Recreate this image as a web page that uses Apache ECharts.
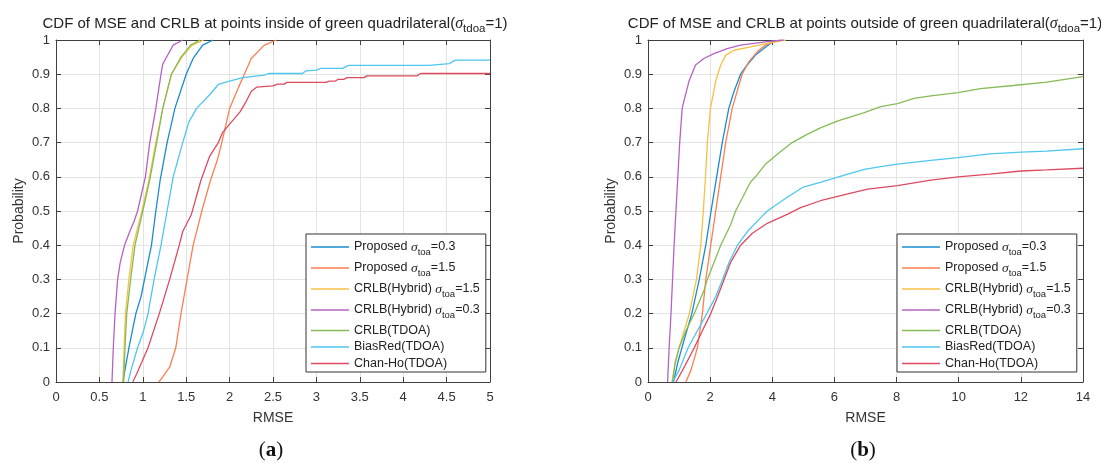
<!DOCTYPE html>
<html>
<head>
<meta charset="utf-8">
<script src="https://cdn.jsdelivr.net/npm/echarts@6/dist/echarts.min.js"></script>
<style>html,body{margin:0;padding:0;background:#fff}#c{width:1101px;height:463px}</style>
</head>
<body>
<div id="c"></div>
<script>
// ---------- data ----------
const seriesNames = ['Proposed σtoa=0.3','Proposed σtoa=1.5','CRLB(Hybrid) σtoa=1.5','CRLB(Hybrid) σtoa=0.3','CRLB(TDOA)','BiasRed(TDOA)','Chan-Ho(TDOA)'];
const xMaxIn = 5, xStepIn = 0.5;
const xMaxOut = 14, xStepOut = 2;
const yMax = 1, yStep = 0.1;

// (a) inside points: [RMSE, probability]
const inProposed03 = [[0.77,0],[0.84,0.1],[0.88,0.15],[0.92,0.2],[0.98,0.25],[1.02,0.3],[1.10,0.4],[1.15,0.5],[1.20,0.59],[1.28,0.7],[1.37,0.8],[1.50,0.9],[1.58,0.946],[1.69,0.985],[1.81,1]];
const inProposed15 = [[1.185,0],[1.23,0.015],[1.31,0.044],[1.38,0.1],[1.44,0.2],[1.51,0.3],[1.58,0.4],[1.63,0.45],[1.68,0.5],[1.78,0.59],[1.86,0.65],[1.91,0.7],[2.0,0.8],[2.1,0.86],[2.17,0.9],[2.25,0.946],[2.40,0.985],[2.54,1]];
const inHybrid15 = [[0.77,0],[0.785,0.1],[0.80,0.2],[0.84,0.3],[0.89,0.4],[0.99,0.5],[1.07,0.59],[1.15,0.7],[1.23,0.8],[1.33,0.9],[1.45,0.95],[1.57,0.985],[1.70,1]];
const inHybrid03 = [[0.645,0],[0.66,0.1],[0.68,0.2],[0.71,0.3],[0.74,0.35],[0.79,0.4],[0.85,0.44],[0.90,0.47],[0.94,0.5],[1.03,0.6],[1.08,0.7],[1.15,0.8],[1.21,0.9],[1.23,0.93],[1.35,0.985],[1.46,1]];
const inTDOA = [[0.78,0],[0.795,0.1],[0.815,0.2],[0.86,0.3],[0.91,0.4],[1.0,0.5],[1.08,0.59],[1.16,0.7],[1.23,0.8],[1.33,0.9],[1.44,0.95],[1.55,0.985],[1.66,1]];
const inBiasRed = [[0.83,0],[0.87,0.04],[0.94,0.1],[1.01,0.15],[1.06,0.2],[1.13,0.3],[1.21,0.4],[1.28,0.5],[1.35,0.6],[1.46,0.7],[1.53,0.76],[1.62,0.8],[1.77,0.84],[1.87,0.87],[2.0,0.88],[2.15,0.89],[2.4,0.897],[2.45,0.902],[2.84,0.902],[2.88,0.91],[3.0,0.912],[3.05,0.917],[3.3,0.917],[3.37,0.926],[4.3,0.926],[4.32,0.931],[4.53,0.931],[4.6,0.941],[5.0,0.941]];
const inChanHo = [[0.885,0],[0.93,0.024],[1.06,0.1],[1.19,0.2],[1.31,0.3],[1.42,0.4],[1.46,0.44],[1.56,0.49],[1.67,0.59],[1.77,0.66],[1.87,0.7],[1.92,0.73],[2.02,0.76],[2.12,0.79],[2.19,0.82],[2.25,0.85],[2.31,0.862],[2.5,0.866],[2.55,0.871],[2.63,0.871],[2.66,0.876],[3.11,0.876],[3.15,0.88],[3.22,0.88],[3.25,0.885],[3.32,0.885],[3.35,0.89],[3.55,0.89],[3.58,0.895],[4.16,0.895],[4.2,0.902],[5.0,0.902]];

// (b) outside points
const outProposed03 = [[0.82,0],[0.95,0.054],[1.09,0.1],[1.41,0.2],[1.65,0.3],[1.86,0.4],[2.03,0.5],[2.21,0.6],[2.39,0.7],[2.6,0.8],[2.77,0.85],[2.98,0.9],[3.19,0.927],[3.46,0.956],[3.73,0.975],[3.94,0.99],[4.05,1]];
const outProposed15 = [[1.22,0],[1.38,0.034],[1.59,0.1],[1.75,0.2],[1.86,0.3],[2.02,0.4],[2.18,0.5],[2.34,0.6],[2.5,0.7],[2.71,0.8],[2.87,0.85],[3.03,0.9],[3.25,0.937],[3.52,0.966],[3.78,0.985],[4.05,0.995],[4.27,1]];
const outHybrid15 = [[0.77,0],[0.87,0.054],[1.0,0.1],[1.33,0.2],[1.56,0.3],[1.70,0.4],[1.78,0.5],[1.85,0.6],[1.91,0.7],[2.01,0.8],[2.18,0.88],[2.34,0.927],[2.5,0.955],[2.77,0.97],[3.3,0.98],[3.84,0.99],[4.43,1]];
const outHybrid03 = [[0.63,0],[0.68,0.1],[0.74,0.2],[0.79,0.3],[0.84,0.4],[0.9,0.5],[0.96,0.6],[1.02,0.7],[1.10,0.8],[1.18,0.83],[1.32,0.88],[1.53,0.927],[1.8,0.946],[2.12,0.96],[2.55,0.975],[2.98,0.985],[3.84,0.995],[4.37,1]];
const outTDOA = [[0.79,0],[0.87,0.054],[1.0,0.1],[1.22,0.15],[1.49,0.2],[1.81,0.27],[1.91,0.3],[2.34,0.4],[2.66,0.46],[2.82,0.5],[3.3,0.585],[3.46,0.6],[3.78,0.637],[4.16,0.666],[4.64,0.7],[5.12,0.724],[5.55,0.743],[6.09,0.763],[6.96,0.7875],[7.49,0.805],[8.03,0.814],[8.56,0.829],[9.1,0.8365],[9.98,0.846],[10.7,0.858],[11.76,0.867],[12.83,0.877],[14,0.893]];
const outBiasRed = [[0.79,0],[1.0,0.034],[1.29,0.1],[1.59,0.15],[1.89,0.2],[2.18,0.25],[2.40,0.3],[2.61,0.35],[2.88,0.4],[3.2,0.44],[3.73,0.49],[3.84,0.5],[4.48,0.54],[5.0,0.57],[5.6,0.585],[6.43,0.608],[6.96,0.622],[7.49,0.63],[8.03,0.637],[9.1,0.648],[9.98,0.656],[11.0,0.667],[12.0,0.672],[12.83,0.675],[14,0.682]];
const outChanHo = [[0.9,0],[1.11,0.034],[1.49,0.1],[1.75,0.15],[2.02,0.2],[2.24,0.25],[2.45,0.3],[2.66,0.35],[2.98,0.4],[3.36,0.435],[3.84,0.464],[4.48,0.49],[4.91,0.51],[5.55,0.53],[6.43,0.55],[7.07,0.564],[8.03,0.574],[9.1,0.59],[9.98,0.6],[11.0,0.608],[12.0,0.617],[12.83,0.62],[14,0.625]];

const inData = [inProposed03,inProposed15,inHybrid15,inHybrid03,inTDOA,inBiasRed,inChanHo];
const outData = [outProposed03,outProposed15,outHybrid15,outHybrid03,outTDOA,outBiasRed,outChanHo];

// ---------- styles ----------
const colors = ['#1a8bd0','#fa7f52','#f6c144','#b463c2','#86bb58','#4fc6f0','#dc4b60'];
const AX = '#404040';
const FONT = 'Liberation Sans, Arial, sans-serif';

function tick(len){ return {show:true, inside:true, length:len, lineStyle:{color:AX, width:1}}; }
function xAxisMain(gi, max, step){
  return {type:'value', gridIndex:gi, min:0, max:max, interval:step, position:'bottom',
    name:'RMSE', nameLocation:'middle', nameGap:29,
    nameTextStyle:{fontSize:14, color:'#333', fontFamily:FONT},
    axisLine:{show:true, onZero:false, lineStyle:{color:AX, width:1}},
    axisTick:tick(5),
    axisLabel:{fontSize:13, color:'#333', fontFamily:FONT, margin:9},
    splitLine:{show:true, lineStyle:{color:'#e3e3e3', width:1}}};
}
function xAxisTop(gi, max, step){
  return {type:'value', gridIndex:gi, min:0, max:max, interval:step, position:'top',
    axisLine:{show:true, onZero:false, lineStyle:{color:AX, width:1}},
    axisTick:tick(5),
    axisLabel:{show:false}, splitLine:{show:false}};
}
function yAxisMain(gi){
  return {type:'value', gridIndex:gi, min:0, max:yMax, interval:yStep, position:'left',
    name:'Probability', nameLocation:'middle', nameGap:30, nameRotate:90,
    nameTextStyle:{fontSize:14, color:'#333', fontFamily:FONT},
    axisLine:{show:true, onZero:false, lineStyle:{color:AX, width:1}},
    axisTick:tick(5),
    axisLabel:{fontSize:13, color:'#333', fontFamily:FONT, margin:6},
    splitLine:{show:true, lineStyle:{color:'#e3e3e3', width:1}}};
}
function yAxisRight(gi){
  return {type:'value', gridIndex:gi, min:0, max:yMax, interval:yStep, position:'right',
    axisLine:{show:true, onZero:false, lineStyle:{color:AX, width:1}},
    axisTick:tick(5),
    axisLabel:{show:false}, splitLine:{show:false}};
}

const legendRich = {
  s:{fontFamily:'Liberation Serif, serif', fontStyle:'italic', fontSize:13.5, color:'#222'},
  sub:{fontSize:9.5, color:'#222', fontFamily:FONT, padding:[11,0,0,0]},
  t:{fontSize:12.5, color:'#222', fontFamily:FONT}
};
function legendFmt(name){
  const m = name.match(/^(.*) σtoa(=.*)$/);
  if (m) return '{t|' + m[1] + ' }{s|σ}{sub|toa}{t|' + m[2] + '}';
  return '{t|' + name + '}';
}
function legendAt(left, top){
  return {data:seriesNames, orient:'vertical', left:left, top:top,
    icon:'rect', itemWidth:38, itemHeight:1.6, itemGap:3.5,
    backgroundColor:'#fff', borderColor:'#333', borderWidth:1,
    padding:[6,6,2,5], selectedMode:false,
    formatter:legendFmt,
    textStyle:{fontSize:12.5, color:'#222', fontFamily:FONT, rich:legendRich}};
}

const titleRich = {
  a:{fontSize:15, color:'#222', fontFamily:FONT, fontWeight:'normal'},
  s:{fontSize:16, color:'#222', fontFamily:'Liberation Serif, serif', fontStyle:'italic', fontWeight:'normal'},
  sub:{fontSize:11.5, color:'#222', fontFamily:FONT, fontWeight:'normal', padding:[11,0,0,0]}
};
function titleAt(cx, txt){
  return {text:'{a|' + txt + '(}{s|σ}{sub|tdoa}{a|=1)}', left:cx, top:7, textAlign:'center',
    textStyle:{fontWeight:'normal', rich:titleRich}};
}
function capAt(cx, letter){
  return {text:'{p|(}{b|' + letter + '}{p|)}', left:cx, top:435, textAlign:'center',
    textStyle:{fontWeight:'normal', rich:{p:{fontSize:21, color:'#111', fontFamily:'Liberation Serif, serif', fontWeight:'normal'},
                     b:{fontSize:21, color:'#111', fontFamily:'Liberation Serif, serif', fontWeight:'bold'}}}};
}

const series = [];
inData.forEach((d,i)=>series.push({name:seriesNames[i], type:'line', xAxisIndex:0, yAxisIndex:0, data:d,
  symbol:'none', lineStyle:{width:1.3, color:colors[i]}, itemStyle:{color:colors[i]}, z:2+i, animation:false}));
outData.forEach((d,i)=>series.push({name:seriesNames[i], type:'line', xAxisIndex:2, yAxisIndex:2, data:d,
  symbol:'none', lineStyle:{width:1.3, color:colors[i]}, itemStyle:{color:colors[i]}, z:2+i, animation:false}));

const option = {
  animation:false,
  backgroundColor:'#fff',
  title:[
    titleAt(270, 'CDF of MSE and CRLB at points inside of green quadrilateral'),
    titleAt(860, 'CDF of MSE and CRLB at points outside of green quadrilateral'),
    capAt(266, 'a'), capAt(858, 'b')
  ],
  grid:[
    {left:56, right:611, top:40, bottom:81},
    {left:648, right:18, top:40, bottom:81}
  ],
  xAxis:[xAxisMain(0,xMaxIn,xStepIn), xAxisTop(0,xMaxIn,xStepIn), xAxisMain(1,xMaxOut,xStepOut), xAxisTop(1,xMaxOut,xStepOut)],
  yAxis:[yAxisMain(0), yAxisRight(0), yAxisMain(1), yAxisRight(1)],
  legend:[legendAt(306,234), legendAt(897,234)],
  series:series
};
const chart = echarts.init(document.getElementById('c'), null, {renderer:'canvas'});
chart.setOption(option);
</script>
</body>
</html>
